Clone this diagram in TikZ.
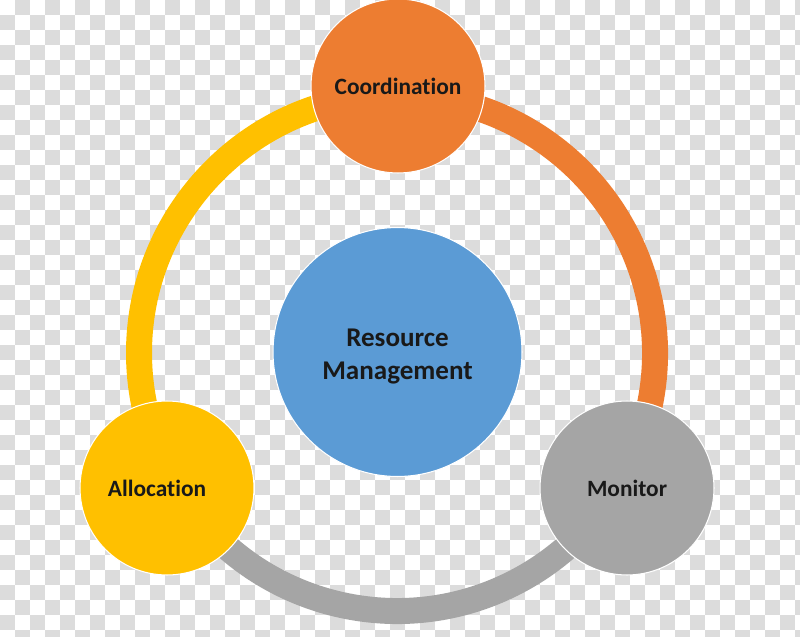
\documentclass[tikz,border=0pt]{standalone}
\usepackage{fontspec}
\setmainfont{Carlito}[Ligatures=NoCommon]
\definecolor{chk}{RGB}{220,220,220}
\definecolor{corange}{RGB}{237,125,49}
\definecolor{cyellow}{RGB}{255,192,0}
\definecolor{cgray}{RGB}{165,165,165}
\definecolor{cblue}{RGB}{91,155,213}
\tikzset{
  ball/.style={circle, draw=white, line width=0.6pt, minimum size=3.48cm, inner sep=0pt,
    font=\fontsize{13.3}{16}\selectfont\bfseries, text=black!90, align=center},
  hubball/.style={ball, minimum size=4.98cm},
  hubtext/.style={font=\fontsize{15.4}{18.8}\selectfont\bfseries, text=black!90, align=center, inner sep=0pt},
  ringseg/.style={line width=0.52cm}
}
\begin{document}
\begin{tikzpicture}[x=0.02cm,y=0.02cm]
        \useasboundingbox (0,0) rectangle (800,636);
        \fill[white] (0,0) rectangle (800,636);
        \begin{scope}
        \clip (0,0) rectangle (800,636);
        \foreach \i in {0,2,...,52}
            \foreach \j in {1,3,...,41}
                \fill[chk] (\i*15,636-\j*15) rectangle ++(15,-15);
        \foreach \i in {1,3,...,53}
            \foreach \j in {0,2,...,42}
                \fill[chk] (\i*15,636-\j*15) rectangle ++(15,-15);
        \end{scope}
        \coordinate (hub) at (397,283);
        \draw[ringseg, cyellow] ([shift={(90:258)}]hub) arc[start angle=90, end angle=210, radius=258];
        \draw[ringseg, corange] ([shift={(-30:258)}]hub) arc[start angle=-30, end angle=90, radius=258];
        \draw[ringseg, cgray] ([shift={(210:258)}]hub) arc[start angle=210, end angle=330, radius=258];
        \node[hubball, fill=cblue] (resmgmt) at (397.5,284) {};
        \node[hubtext] (resmgmttext) at ([yshift=-0.1cm]resmgmt.center) {Resource\\Management};
        \node[ball, fill=corange] (coord) at (398,550) {Coordination};
        \node[ball, fill=cyellow] (alloc) at (167,148) {\hspace*{-0.4cm}Allocation};
        \node[ball, fill=cgray] (monitor) at (627,148) {Monitor};
    \end{tikzpicture}
\end{document}
